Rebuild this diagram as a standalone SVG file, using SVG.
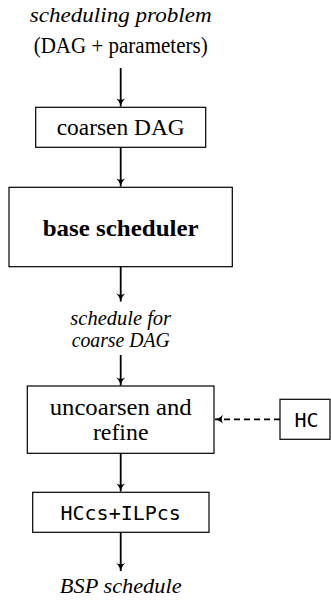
<svg xmlns="http://www.w3.org/2000/svg" width="331" height="601" viewBox="0 0 331 601">
<style>
  .box { fill: #ffffff; stroke: #000000; stroke-width: 1.2; }
  .ser { font-family: "Liberation Serif", "Times New Roman", "DejaVu Serif", serif; font-size: 23px; fill: #000; text-anchor: middle; }
  .it { font-style: italic; font-size: 22px; }
  .bd { font-weight: bold; font-size: 24px; }
  .sm { font-size: 20px; }
  .mono { font-family: "DejaVu Sans Mono", "Liberation Mono", monospace; font-size: 20px; fill: #000; text-anchor: middle; }
  .edge { fill: none; stroke: #000; stroke-width: 1.8; }
  .dash { stroke-dasharray: 6 4; }
</style>
<defs>
  <marker id="arr" viewBox="0 0 10 10" refX="9" refY="5" markerWidth="10" markerHeight="10" markerUnits="userSpaceOnUse" orient="auto">
    <path d="M1,0.5 Q5,4.5 9.5,5 Q5,5.5 1,9.5 Q3.5,5 1,0.5 Z" fill="#000"/>
  </marker>
</defs>
<g id="connectors">
  <line class="edge" x1="120.7" y1="68" x2="120.7" y2="106.5" marker-end="url(#arr)"/>
  <line class="edge" x1="120.7" y1="147.5" x2="120.7" y2="186.5" marker-end="url(#arr)"/>
  <line class="edge" x1="120.7" y1="267" x2="120.7" y2="301.5" marker-end="url(#arr)"/>
  <line class="edge" x1="120.7" y1="355" x2="120.7" y2="385.5" marker-end="url(#arr)"/>
  <line class="edge" x1="120.7" y1="453.5" x2="120.7" y2="491.5" marker-end="url(#arr)"/>
  <line class="edge" x1="120.7" y1="532.5" x2="120.7" y2="571" marker-end="url(#arr)"/>
  <line class="edge dash" x1="280" y1="419.3" x2="215" y2="419.3" marker-end="url(#arr)"/>
</g>
<g id="input">
  <text class="ser it" x="120.7" y="22" textLength="182" lengthAdjust="spacingAndGlyphs">scheduling problem</text>
  <text class="ser" x="120.7" y="53" textLength="174" lengthAdjust="spacingAndGlyphs">(DAG + parameters)</text>
</g>
<g id="coarsen">
  <rect class="box" x="35.7" y="107.3" width="170" height="40"/>
  <text class="ser" x="120.7" y="135" textLength="128" lengthAdjust="spacingAndGlyphs">coarsen DAG</text>
</g>
<g id="base">
  <rect class="box" x="9" y="187.3" width="223.3" height="79.4"/>
  <text class="ser bd" x="120.7" y="236" textLength="156" lengthAdjust="spacingAndGlyphs">base scheduler</text>
</g>
<g id="coarse-schedule">
  <text class="ser it sm" x="120.7" y="325" textLength="100.7" lengthAdjust="spacingAndGlyphs">schedule for</text>
  <text class="ser it sm" x="120.7" y="346.7" textLength="98" lengthAdjust="spacingAndGlyphs">coarse DAG</text>
</g>
<g id="uncoarsen">
  <rect class="box" x="27.3" y="386" width="186.7" height="67.3"/>
  <text class="ser" x="120.7" y="415" textLength="142" lengthAdjust="spacingAndGlyphs">uncoarsen and</text>
  <text class="ser" x="120.7" y="440" textLength="55.6" lengthAdjust="spacingAndGlyphs">refine</text>
</g>
<g id="hc">
  <rect class="box" x="280" y="399.3" width="50" height="40"/>
  <text class="mono" x="306.5" y="426.5">HC</text>
</g>
<g id="hccs">
  <rect class="box" x="32.7" y="492.3" width="176.3" height="40"/>
  <text class="mono" x="120.7" y="519.5">HCcs+ILPcs</text>
</g>
<g id="output">
  <text class="ser it" x="120.7" y="593" textLength="121.7" lengthAdjust="spacingAndGlyphs">BSP schedule</text>
</g>
</svg>
